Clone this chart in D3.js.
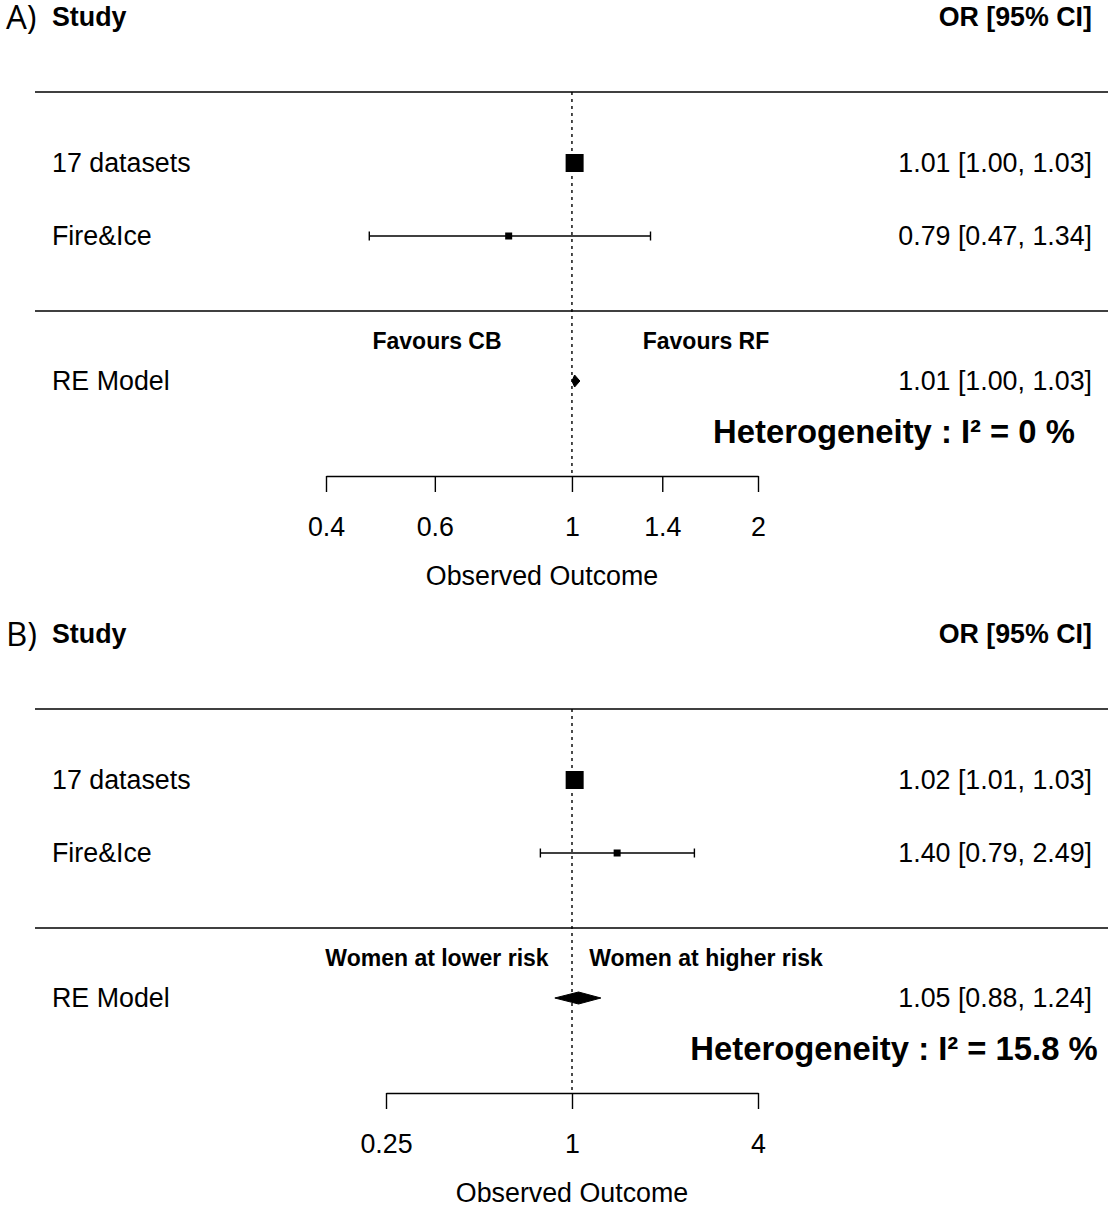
<!DOCTYPE html>
<html>
<head>
<meta charset="utf-8">
<script src="https://cdn.jsdelivr.net/npm/d3@7"></script>
<style>
  html, body { margin: 0; padding: 0; background: #fff; }
  svg { display: block; font-family: "Liberation Sans", Arial, Helvetica, sans-serif; }
</style>
</head>
<body>
<script>
// Forest plots: sex-difference odds ratios, two panels.

const panelLetters = ["A)", "B)"];
const studies = ["17 datasets", "Fire&Ice"];

// Odds ratio with 95% CI for each study, per panel
const estA = [1.01, 0.79];
const lowA = [1.00, 0.47];
const highA = [1.03, 1.34];
const estB = [1.02, 1.40];
const lowB = [1.01, 0.79];
const highB = [1.03, 2.49];

// Random-effects summary [estimate, lower, upper]
const reA = [1.01, 1.00, 1.03];
const reB = [1.05, 0.88, 1.24];

const i2A = "0";
const i2B = "15.8";

const ticksA = [0.4, 0.6, 1, 1.4, 2];
const ticksB = [0.25, 1, 4];
const tickLabelsA = ["0.4", "0.6", "1", "1.4", "2"];
const tickLabelsB = ["0.25", "1", "4"];

const favoursA = ["Favours CB", "Favours RF"];
const favoursB = ["Women at lower risk", "Women at higher risk"];

const panels = [
  { letter: panelLetters[0], est: estA, low: lowA, high: highA, re: reA, i2: i2A,
    ticks: ticksA, tickLabels: tickLabelsA, favours: favoursA, range: [326, 758], offset: 0 },
  { letter: panelLetters[1], est: estB, low: lowB, high: highB, re: reB, i2: i2B,
    ticks: ticksB, tickLabels: tickLabelsB, favours: favoursB, range: [386, 758], offset: 617 }
];

const W = 1108, H = 1209;
const svg = d3.select("body").append("svg").attr("width", W).attr("height", H);

// vertical layout inside a panel
const L = {
  header: 17, rule1: 92, rows: [163, 236], rule2: 311, favours: 341,
  re: 381, het: 432, axis: 476, tickLen: 16, tickLabel: 527, title: 576
};
const labelX = 52, valueX = 1092, ruleX0 = 35, ruleX1 = 1108;
const fs = 26.8;

const fmt = d3.format(".2f");

panels.forEach(p => {
  const g = svg.append("g").attr("transform", `translate(0,${p.offset})`);
  const x = d3.scaleLog().domain([p.ticks[0], p.ticks[p.ticks.length - 1]]).range(p.range);

  // panel letter
  g.append("text").attr("x", 6).attr("y", L.header).attr("dy", "0.36em")
    .attr("font-family", "'Open Sans', 'Noto Sans', sans-serif")
    .attr("font-size", 33).attr("fill", "#000").text(p.letter);

  // headers
  g.append("text").attr("x", labelX).attr("y", L.header).attr("dy", "0.35em")
    .attr("font-size", fs).attr("font-weight", "bold").text("Study");
  g.append("text").attr("x", valueX).attr("y", L.header).attr("dy", "0.35em")
    .attr("text-anchor", "end").attr("font-size", fs).attr("font-weight", "bold").text("OR [95% CI]");

  // horizontal rules
  [L.rule1, L.rule2].forEach(y => {
    g.append("line").attr("x1", ruleX0).attr("x2", ruleX1).attr("y1", y).attr("y2", y)
      .attr("stroke", "#000").attr("stroke-width", 1.3);
  });

  // reference line at OR = 1
  g.append("line").attr("x1", x(1)).attr("x2", x(1)).attr("y1", L.rule1).attr("y2", L.axis)
    .attr("stroke", "#000").attr("stroke-width", 1.4).attr("stroke-dasharray", "3,4");

  // inverse-variance weights → square sizes
  const wts = p.est.map((d, i) => {
    const se = (Math.log(p.high[i]) - Math.log(p.low[i])) / (2 * 1.96);
    return 1 / (se * se);
  });
  const size = d3.scaleLinear().domain(d3.extent(wts)).range([7, 18]);

  studies.forEach((name, i) => {
    const y = L.rows[i];
    g.append("text").attr("x", labelX).attr("y", y).attr("dy", "0.35em")
      .attr("font-size", fs).text(name);
    g.append("text").attr("x", valueX).attr("y", y).attr("dy", "0.35em")
      .attr("text-anchor", "end").attr("font-size", fs)
      .text(`${fmt(p.est[i])} [${fmt(p.low[i])}, ${fmt(p.high[i])}]`);

    // CI whisker with end caps
    g.append("line").attr("x1", x(p.low[i])).attr("x2", x(p.high[i])).attr("y1", y).attr("y2", y)
      .attr("stroke", "#000").attr("stroke-width", 1.4);
    [p.low[i], p.high[i]].forEach(v => {
      g.append("line").attr("x1", x(v)).attr("x2", x(v)).attr("y1", y - 4.5).attr("y2", y + 4.5)
        .attr("stroke", "#000").attr("stroke-width", 1.4);
    });
    const s = size(wts[i]);
    g.append("rect").attr("x", x(p.est[i]) - s / 2).attr("y", y - s / 2)
      .attr("width", s).attr("height", s).attr("fill", "#000");
  });

  // favours labels
  g.append("text").attr("x", 437).attr("y", L.favours).attr("dy", "0.35em")
    .attr("text-anchor", "middle").attr("font-size", 23).attr("font-weight", "bold").text(p.favours[0]);
  g.append("text").attr("x", 706).attr("y", L.favours).attr("dy", "0.35em")
    .attr("text-anchor", "middle").attr("font-size", 23).attr("font-weight", "bold").text(p.favours[1]);

  // RE model summary diamond
  g.append("text").attr("x", labelX).attr("y", L.re).attr("dy", "0.35em")
    .attr("font-size", fs).text("RE Model");
  g.append("text").attr("x", valueX).attr("y", L.re).attr("dy", "0.35em")
    .attr("text-anchor", "end").attr("font-size", fs)
    .text(`${fmt(p.re[0])} [${fmt(p.re[1])}, ${fmt(p.re[2])}]`);
  const dh = 6;
  g.append("path")
    .attr("d", `M${x(p.re[1])},${L.re} L${x(p.re[0])},${L.re - dh} L${x(p.re[2])},${L.re} L${x(p.re[0])},${L.re + dh} Z`)
    .attr("fill", "#000").attr("stroke", "#000").attr("stroke-width", 1);

  // heterogeneity
  g.append("text").attr("x", 894).attr("y", L.het).attr("dy", "0.35em")
    .attr("text-anchor", "middle").attr("font-size", 32.8).attr("font-weight", "bold")
    .text(`Heterogeneity : I² = ${p.i2} %`);

  // log-scale axis
  const axis = d3.axisBottom(x).tickValues(p.ticks)
    .tickFormat((d, i) => p.tickLabels[i]).tickSize(L.tickLen).tickSizeOuter(0);
  const ag = g.append("g").attr("transform", `translate(0,${L.axis})`).call(axis);
  ag.select(".domain").attr("stroke-width", 1.4);
  ag.selectAll(".tick line").attr("stroke-width", 1.4);
  ag.selectAll(".tick text").attr("y", L.tickLabel - L.axis).attr("dy", "0.35em")
    .attr("font-size", fs).attr("font-family", "'Liberation Sans', Arial, sans-serif").attr("fill", "#000");

  g.append("text").attr("x", (p.range[0] + p.range[1]) / 2).attr("y", L.title).attr("dy", "0.35em")
    .attr("text-anchor", "middle").attr("font-size", fs).text("Observed Outcome");
});
</script>
</body>
</html>
